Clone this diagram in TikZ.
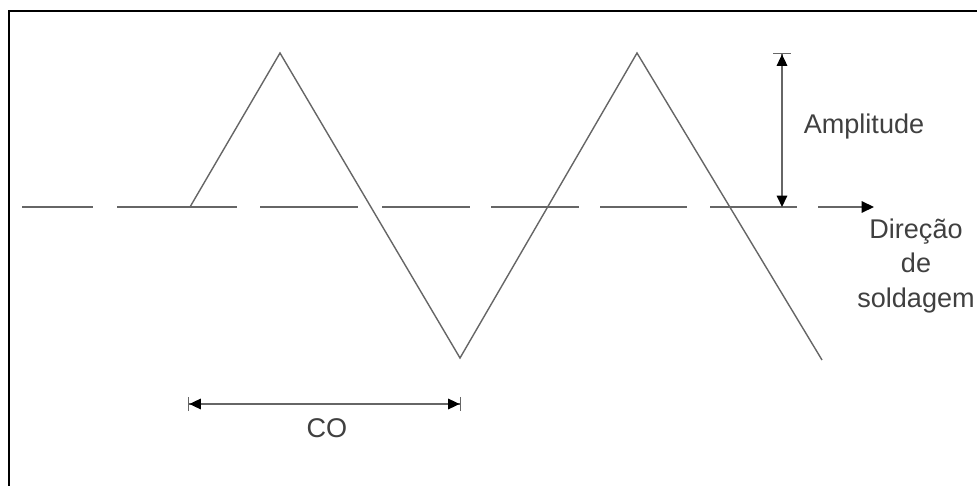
\documentclass[tikz,border=0pt]{standalone}
\usepackage{fontspec}
\setmainfont{Liberation Sans}
\usetikzlibrary{arrows.meta}

\begin{document}
\begin{tikzpicture}[x=0.02cm, y=-0.02cm,
    line width=0.8pt, draw=black!60,
    every node/.style={font=\fontsize{15.4}{19.4}\selectfont, text=black!75}]
    \useasboundingbox (0,0) rectangle (977,486);

    % Draw the frame (top and left edges only)
    \draw[black, line width=1.3pt] (9,486) -- (9,11) -- (977,11);

    % Draw the dashed centre line
    \foreach \a/\b in {22/93, 117/237, 260/358, 382/470, 491/579, 600/687, 710/797}
        \draw (\a,207) -- (\b,207);
    \coordinate (dirS) at (818,207);
    \coordinate (dirE) at (874,207);
    \draw[-{Triangle[length=7pt,width=6.5pt,black]}] (dirS) -- (dirE);

    % Draw the weave path
    \coordinate (p0) at (190,207);
    \coordinate (p1) at (280,53);
    \coordinate (p2) at (460,358);
    \coordinate (p3) at (637,53);
    \coordinate (p4) at (822,360);
    \draw (p0) -- (p1) -- (p2) -- (p3) -- (p4);

    % Draw the amplitude
    \coordinate (ampT) at (782,53);
    \coordinate (ampB) at (782,207);
    \draw[{Bar[width=10pt]Triangle[length=6.5pt,width=6pt,black]}-{Triangle[length=6.5pt,width=6pt,black]}] (ampT) -- (ampB);
    \node (amp) at (864,127) {Amplitude};

    % Draw the oscillation length
    \coordinate (coA) at (188,404);
    \coordinate (coB) at (461,404);
    \draw[{Bar[width=8pt]Triangle[length=6.5pt,width=6pt,black]}-{Triangle[length=6.5pt,width=6pt,black]Bar[width=8pt]}] (coA) -- (coB);
    \node (co) at (327,428) {CO};

    \node[align=center] (dir) at (916,266) {Direção\\de\\soldagem};
\end{tikzpicture}
\end{document}
